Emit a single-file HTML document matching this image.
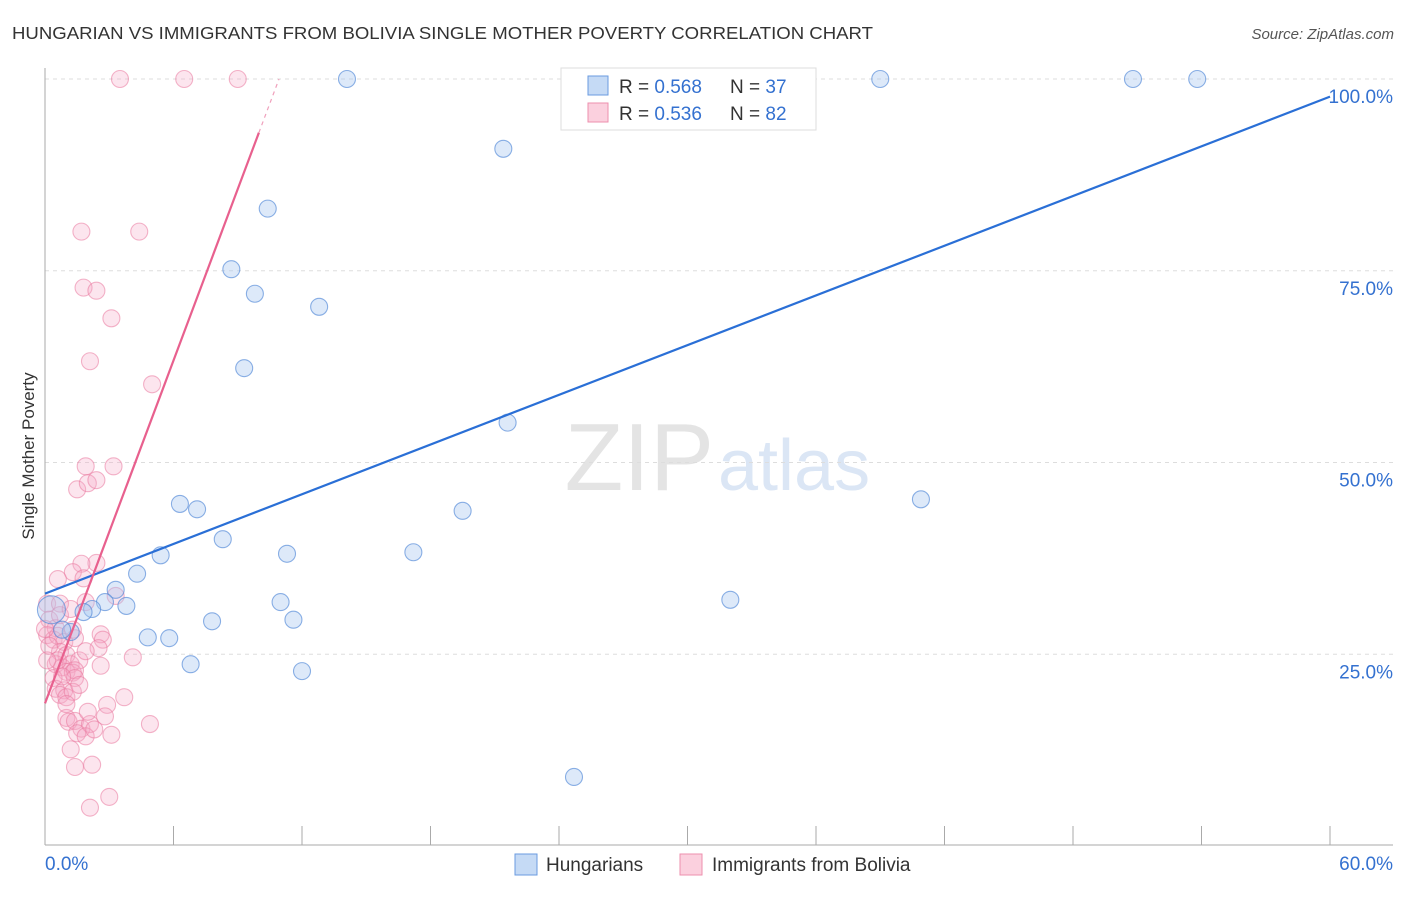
<!DOCTYPE html>
<html><head><meta charset="utf-8"><style>
body{margin:0;background:#fff;font-family:"Liberation Sans",sans-serif;}
svg text{font-family:"Liberation Sans",sans-serif;}
</style></head><body>
<svg id="chart" width="1406" height="892">
<text x="12" y="39" font-size="17.5" fill="#333" textLength="861" lengthAdjust="spacingAndGlyphs">HUNGARIAN VS IMMIGRANTS FROM BOLIVIA SINGLE MOTHER POVERTY CORRELATION CHART</text>
<text x="1394" y="39" font-size="15" fill="#555" font-style="italic" text-anchor="end">Source: ZipAtlas.com</text>
<text x="714" y="490" font-size="96" fill="#e4e4e4" text-anchor="end" font-family="Liberation Serif">ZIP</text>
<text x="718" y="490" font-size="72" fill="#dbe6f5">atlas</text>
<g id="grid"></g>
<g id="axes"></g>
<g id="pts"></g>
<g id="lines"></g>
<text transform="translate(34,456) rotate(-90)" font-size="17" fill="#333" text-anchor="middle">Single Mother Poverty</text>
<g>
<rect x="561" y="68" width="255" height="62" fill="#fff" stroke="#ddd"/>
<rect x="588" y="76" width="20" height="19" fill="#c5daf5" stroke="#6a9be0"/>
<rect x="588" y="103" width="20" height="19" fill="#fbd0de" stroke="#ee8fae"/>
<text x="619" y="93" font-size="19" fill="#333">R = <tspan fill="#3471d0">0.568</tspan></text>
<text x="730" y="93" font-size="19" fill="#333">N = <tspan fill="#3471d0">37</tspan></text>
<text x="619" y="120" font-size="19" fill="#333">R = <tspan fill="#3471d0">0.536</tspan></text>
<text x="730" y="120" font-size="19" fill="#333">N = <tspan fill="#3471d0">82</tspan></text>
</g>
<g>
<rect x="515" y="854" width="22" height="21" fill="#c5daf5" stroke="#6a9be0"/>
<text x="546" y="871" font-size="19" fill="#333">Hungarians</text>
<rect x="680" y="854" width="22" height="21" fill="#fbd0de" stroke="#ee8fae"/>
<text x="712" y="871" font-size="19" fill="#333">Immigrants from Bolivia</text>
</g>
</svg>
<script>
const xTicks=[0,6,12,18,24,30,36,42,48,54,60];
const yTicks=[25,50,75,100];
const yTickLabels=["25.0%","50.0%","75.0%","100.0%"];
const blueX=[14.1,39.0,50.8,53.8,21.4,10.4,8.7,9.8,12.8,9.3,21.6,40.9,6.3,7.1,19.5,8.3,17.2,11.3,5.4,4.3,3.3,2.8,3.8,32.0,11.0,2.2,1.8,0.3,7.8,11.6,4.8,5.8,1.2,0.8,6.8,12.0,24.7];
const blueY=[100,100,100,100,90.9,83.1,75.2,72.0,70.3,62.3,55.2,45.2,44.6,43.9,43.7,40.0,38.3,38.1,37.9,35.5,33.4,31.8,31.3,32.1,31.8,30.9,30.5,30.8,29.3,29.5,27.2,27.1,27.9,28.2,23.7,22.8,9.0];
const pinkX=[3.5,6.5,9.0,1.7,4.4,1.8,2.4,3.1,2.1,5.0,1.9,3.2,1.5,2.0,2.4,2.4,1.7,1.3,0.6,1.8,0.1,0.7,1.9,3.3,0.2,0.5,0.1,0.4,0.6,0.9,1.4,1.3,2.6,2.7,2.5,4.1,0.7,1.0,0.5,0.8,1.2,1.6,2.6,1.0,1.3,1.4,1.4,0.4,0.5,0.9,0.7,1.0,1.3,3.7,2.9,2.8,4.9,1.0,1.1,1.4,1.7,1.5,2.1,1.9,3.1,1.2,1.4,2.2,3.0,2.1,0.0,0.2,0.6,0.8,1.6,1.0,2.0,2.3,0.7,0.1,1.9,1.2];
const pinkY=[100,100,100,80.1,80.1,72.8,72.4,68.8,63.2,60.2,49.5,49.5,46.5,47.3,47.7,36.9,36.8,35.7,34.8,34.9,31.6,31.6,31.8,32.6,29.5,28.4,27.5,26.9,27.4,26.6,27.1,28.2,27.6,26.9,25.8,24.6,25.3,24.9,23.7,23.3,23.7,24.2,23.5,22.7,22.6,22.9,21.9,21.9,20.5,20.3,19.7,19.4,20.1,19.4,18.4,16.9,15.9,16.7,16.2,16.3,15.3,14.7,15.9,14.3,14.5,12.6,10.3,10.6,6.4,5.0,28.3,26.1,24.2,22.1,21.0,18.5,17.5,15.2,30.1,24.2,25.4,30.9];
const blueLine=[32.9,1.08];
const pinkLine=[18.6,7.45];
const X=v=>45+v/60*1285, Y=v=>846-v*7.67;
const NS="http://www.w3.org/2000/svg";
function mk(t,a,p){const e=document.createElementNS(NS,t);for(const k in a)e.setAttribute(k,a[k]);p.appendChild(e);return e;}
const grid=document.getElementById('grid'),axes=document.getElementById('axes'),pts=document.getElementById('pts'),lines=document.getElementById('lines');
yTicks.forEach((v,i)=>{
 const l=mk('line',{x1:45,x2:1393,y1:Y(v),y2:Y(v),stroke:'#ddd','stroke-dasharray':'4,4'},grid);
 
 
 const t=mk('text',{x:1393,y:Y(v)+24,'font-size':19,fill:'#3471d0','text-anchor':'end'},axes);
 t.textContent=yTickLabels[i];
 
 
});
mk('line',{x1:45,x2:45,y1:68,y2:845,stroke:'#aaa'},axes);
mk('line',{x1:45,x2:1393,y1:845,y2:845,stroke:'#aaa'},axes);
xTicks.forEach(v=>{
 const l=mk('line',{x1:X(v),x2:X(v),y1:826,y2:845,stroke:'#aaa'},axes);
 
 
});
const t0=mk('text',{x:45,y:870,'font-size':19,fill:'#3471d0'},axes);t0.textContent='0.0%';


const t1=mk('text',{x:1393,y:870,'font-size':19,fill:'#3471d0','text-anchor':'end'},axes);t1.textContent='60.0%';


pinkX.forEach((v,i)=>{
 const c=mk('circle',{cx:X(v),cy:Y(pinkY[i]),r:8.5,fill:'rgba(246,170,198,0.3)',stroke:'rgba(234,120,158,0.55)','stroke-width':1.1},pts);
 
 
});
blueX.forEach((v,i)=>{
 const c=mk('circle',{cx:X(v),cy:Y(blueY[i]),r:i==27?14:8.5,fill:'rgba(170,200,240,0.4)',stroke:'rgba(80,135,215,0.65)','stroke-width':1.1},pts);
 
 
});
const bl=mk('line',{x1:X(0),y1:Y(blueLine[0]),x2:X(60),y2:Y(blueLine[0]+60*blueLine[1]),stroke:'#2a6fd6','stroke-width':2.2},lines);


const xs=(93-pinkLine[0])/pinkLine[1], xe=(100-pinkLine[0])/pinkLine[1];
const pl=mk('line',{x1:X(0),y1:Y(pinkLine[0]),x2:X(xs),y2:Y(93),stroke:'#e8608e','stroke-width':2.2},lines);


const pd=mk('line',{x1:X(xs),y1:Y(93),x2:X(xe),y2:Y(100),stroke:'#f0a0bc','stroke-width':1.2,'stroke-dasharray':'4,4'},lines);


</script>
</body></html>
